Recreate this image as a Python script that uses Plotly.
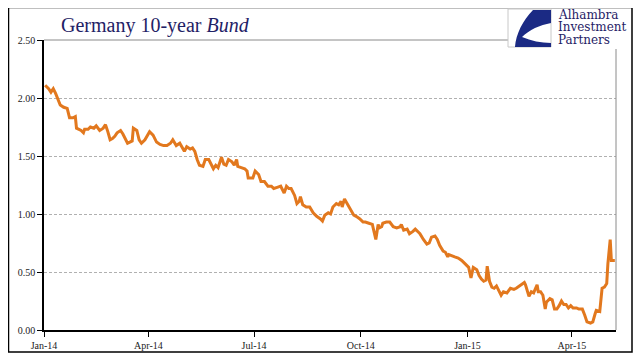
import plotly.graph_objects as go

# ---- data ----
dates = [
    "2014-01-02", "2014-01-05", "2014-01-07", "2014-01-09", "2014-01-11", "2014-01-13", "2014-01-15",
    "2014-01-18", "2014-01-21", "2014-01-23", "2014-01-26", "2014-01-28", "2014-01-29", "2014-02-02",
    "2014-02-04", "2014-02-05", "2014-02-08", "2014-02-10", "2014-02-13", "2014-02-15", "2014-02-18",
    "2014-02-21", "2014-02-23", "2014-02-25", "2014-02-27", "2014-03-01", "2014-03-03", "2014-03-05",
    "2014-03-08", "2014-03-10", "2014-03-14", "2014-03-16", "2014-03-18", "2014-03-19", "2014-03-22",
    "2014-03-24", "2014-03-26", "2014-03-29", "2014-04-01", "2014-04-02", "2014-04-05", "2014-04-08",
    "2014-04-11", "2014-04-14", "2014-04-17", "2014-04-20", "2014-04-22", "2014-04-25", "2014-04-28",
    "2014-04-30", "2014-05-02", "2014-05-04", "2014-05-07", "2014-05-09", "2014-05-11", "2014-05-13",
    "2014-05-14", "2014-05-15", "2014-05-18", "2014-05-20", "2014-05-23", "2014-05-27", "2014-05-29",
    "2014-05-31", "2014-06-03", "2014-06-05", "2014-06-07", "2014-06-09", "2014-06-12", "2014-06-14",
    "2014-06-16", "2014-06-17", "2014-06-20", "2014-06-23", "2014-06-25", "2014-06-26", "2014-06-30",
    "2014-07-02", "2014-07-05", "2014-07-07", "2014-07-10", "2014-07-13", "2014-07-16", "2014-07-18",
    "2014-07-21", "2014-07-24", "2014-07-25", "2014-07-27", "2014-07-29", "2014-07-31", "2014-08-02",
    "2014-08-05", "2014-08-07", "2014-08-09", "2014-08-10", "2014-08-12", "2014-08-15", "2014-08-18",
    "2014-08-21", "2014-08-24", "2014-08-27", "2014-08-29", "2014-08-31", "2014-09-03", "2014-09-05",
    "2014-09-07", "2014-09-10", "2014-09-12", "2014-09-14", "2014-09-15", "2014-09-17", "2014-09-20",
    "2014-09-23", "2014-09-25", "2014-09-27", "2014-09-30", "2014-10-03", "2014-10-05", "2014-10-08",
    "2014-10-11", "2014-10-14", "2014-10-16", "2014-10-17", "2014-10-19", "2014-10-20", "2014-10-23",
    "2014-10-26", "2014-10-29", "2014-11-01", "2014-11-04", "2014-11-05", "2014-11-07", "2014-11-10",
    "2014-11-12", "2014-11-15", "2014-11-17", "2014-11-20", "2014-11-21", "2014-11-24", "2014-11-27",
    "2014-11-29", "2014-12-01", "2014-12-04", "2014-12-06", "2014-12-08", "2014-12-11", "2014-12-13",
    "2014-12-15", "2014-12-16", "2014-12-18", "2014-12-21", "2014-12-24", "2014-12-27", "2014-12-30",
    "2015-01-02", "2015-01-04", "2015-01-06", "2015-01-09", "2015-01-11", "2015-01-13", "2015-01-15",
    "2015-01-17", "2015-01-18", "2015-01-20", "2015-01-22", "2015-01-24", "2015-01-26", "2015-01-28",
    "2015-01-30", "2015-02-01", "2015-02-04", "2015-02-07", "2015-02-10", "2015-02-12", "2015-02-15",
    "2015-02-19", "2015-02-20", "2015-02-23", "2015-02-25", "2015-02-27", "2015-03-02", "2015-03-03",
    "2015-03-05", "2015-03-07", "2015-03-09", "2015-03-10", "2015-03-13", "2015-03-15", "2015-03-17",
    "2015-03-19", "2015-03-21", "2015-03-23", "2015-03-25", "2015-03-27", "2015-03-29", "2015-03-31",
    "2015-04-02", "2015-04-05", "2015-04-07", "2015-04-10", "2015-04-12", "2015-04-14", "2015-04-17",
    "2015-04-19", "2015-04-21", "2015-04-22", "2015-04-25", "2015-04-27", "2015-04-29", "2015-05-01",
    "2015-05-02", "2015-05-04", "2015-05-05", "2015-05-08",
]
yields = [
    2.11, 2.08, 2.05, 2.08, 2.04, 1.98, 1.94,
    1.92, 1.91, 1.83, 1.83, 1.84, 1.74, 1.72,
    1.70, 1.73, 1.73, 1.75, 1.74, 1.76, 1.72,
    1.74, 1.77, 1.71, 1.64, 1.65, 1.67, 1.70,
    1.72, 1.69, 1.61, 1.62, 1.63, 1.74, 1.72,
    1.64, 1.61, 1.64, 1.70, 1.71, 1.68, 1.62,
    1.60, 1.59, 1.59, 1.61, 1.64, 1.59, 1.61,
    1.57, 1.54, 1.58, 1.56, 1.57, 1.54, 1.47,
    1.44, 1.42, 1.41, 1.47, 1.47, 1.39, 1.42,
    1.40, 1.49, 1.43, 1.42, 1.47, 1.45, 1.42,
    1.47, 1.41, 1.40, 1.39, 1.37, 1.31, 1.31,
    1.37, 1.34, 1.28, 1.28, 1.24, 1.24, 1.22,
    1.23, 1.24, 1.22, 1.18, 1.24, 1.22, 1.22,
    1.16, 1.09, 1.11, 1.15, 1.08, 1.06, 1.06,
    1.01, 0.98, 0.96, 0.94, 0.99, 1.01, 1.00,
    1.06, 1.09, 1.08, 1.11, 1.06, 1.13, 1.08,
    1.02, 0.99, 0.98, 0.96, 0.93, 0.93, 0.92,
    0.91, 0.78, 0.91, 0.88, 0.89, 0.92, 0.93,
    0.93, 0.89, 0.88, 0.89, 0.91, 0.86, 0.87,
    0.83, 0.85, 0.87, 0.84, 0.83, 0.78, 0.74,
    0.75, 0.80, 0.81, 0.78, 0.73, 0.68, 0.67,
    0.63, 0.65, 0.64, 0.63, 0.62, 0.60, 0.57,
    0.54, 0.45, 0.54, 0.52, 0.47, 0.44, 0.42,
    0.43, 0.55, 0.42, 0.37, 0.36, 0.38, 0.34,
    0.30, 0.33, 0.32, 0.36, 0.35, 0.36, 0.38,
    0.41, 0.39, 0.29, 0.33, 0.32, 0.39, 0.33,
    0.33, 0.30, 0.18, 0.24, 0.27, 0.26, 0.18,
    0.18, 0.21, 0.25, 0.22, 0.22, 0.19, 0.21,
    0.19, 0.19, 0.18, 0.18, 0.13, 0.07, 0.06,
    0.07, 0.14, 0.17, 0.16, 0.36, 0.37, 0.40,
    0.57, 0.78, 0.60, 0.60,
]
y_ticks = [0.0, 0.5, 1.0, 1.5, 2.0, 2.5]
x_range = ["2014-01-01", "2015-05-09"]
title_text = "Germany 10-year <i>Bund</i>"
logo_lines = ["Alhambra", "Investment", "Partners"]

# ---- layout geometry ----
# the page body adds an 8px margin, so the figure is drawn 8px smaller and
# every reference pixel position is shifted by that offset
OFF = 8
W, H = 641 - OFF, 361 - OFF
L, T = 44 - OFF, 40 - OFF
R = W - (616 - OFF)
B = H - (330 - OFF)


def fx(px):
    return (px - OFF - L) / (W - L - R)


def fy(py):
    return (H - B - (py - OFF)) / (H - T - B)


def path(points):
    s = ""
    for cmd, pts in points:
        s += cmd + " " + " ".join(f"{fx(a):.4f},{fy(b):.4f}" for a, b in pts) + " "
    return s + "Z"


ORANGE = "#E2781E"
NAVY = "#1F2266"
SERIF = "Liberation Serif"

fig = go.Figure()
fig.add_trace(go.Scatter(
    x=dates, y=yields, mode="lines",
    line=dict(color=ORANGE, width=3),
    hoverinfo="skip", showlegend=False,
))

shapes = [
    # outer frame of the picture
    dict(type="rect", xref="paper", yref="paper",
         x0=fx(8.5), x1=fx(632), y0=fy(352), y1=fy(7.5),
         line=dict(color="black", width=1.5), layer="below"),
    # top plot border (gray)
    dict(type="line", xref="paper", yref="paper",
         x0=0, x1=fx(508), y0=1, y1=1,
         line=dict(color="#8a8a8a", width=1)),
    # right plot border (gray)
    dict(type="line", xref="paper", yref="paper",
         x0=1, x1=1, y0=0, y1=fy(49),
         line=dict(color="#8a8a8a", width=1)),
    # logo box
    dict(type="rect", xref="paper", yref="paper",
         x0=fx(508), x1=fx(551), y0=fy(47), y1=fy(9),
         line=dict(color="#c8c8c8", width=1), fillcolor="white"),
    # logo blue swoosh
    dict(type="path", xref="paper", yref="paper",
         path=path([
             ("M", [(533, 10)]), ("L", [(551, 10)]), ("L", [(551, 23)]),
             ("C", [(540, 25), (529, 30), (522, 37)]),
             ("C", [(531, 41), (541, 43), (551, 43)]),
             ("L", [(551, 47)]), ("L", [(515, 47)]),
             ("C", [(516, 34), (523, 20), (533, 10)]),
         ]),
         fillcolor="#1B2A84", line=dict(width=0)),
]

annotations = [
    dict(text=title_text, xref="paper", yref="paper", x=fx(59), y=fy(25),
         xanchor="left", yanchor="middle", showarrow=False,
         font=dict(family=SERIF, size=20, color=NAVY)),
]
for i, t in enumerate(logo_lines):
    annotations.append(dict(
        text=t, xref="paper", yref="paper", x=fx(556), y=fy(15 + 12.5 * i),
        xanchor="left", yanchor="middle", showarrow=False,
        font=dict(family="DejaVu Serif", size=12, color=NAVY)))

fig.update_layout(
    width=W, height=H,
    margin=dict(l=L, r=R, t=T, b=B, pad=0),
    paper_bgcolor="white", plot_bgcolor="white",
    shapes=shapes, annotations=annotations,
    xaxis=dict(
        type="date", range=x_range, tick0="2014-01-01", dtick="M3",
        tickformat="%b-%y", ticks="outside", ticklen=5, tickwidth=1,
        tickcolor="black", showline=True, linecolor="black", linewidth=1.5,
        showgrid=False, zeroline=False, automargin=False,
        tickfont=dict(family=SERIF, size=10, color="#222222"),
    ),
    yaxis=dict(
        range=[0, 2.5], tickvals=y_ticks, tickformat=".2f",
        ticks="outside", ticklen=5, tickwidth=1, tickcolor="black",
        showline=True, linecolor="black", linewidth=1.5,
        showgrid=True, gridcolor="#b0b0b0", gridwidth=1, griddash="3px,2px",
        zeroline=False, automargin=False,
        tickfont=dict(family=SERIF, size=10, color="#222222"),
    ),
)

fig.write_html("out.html")
